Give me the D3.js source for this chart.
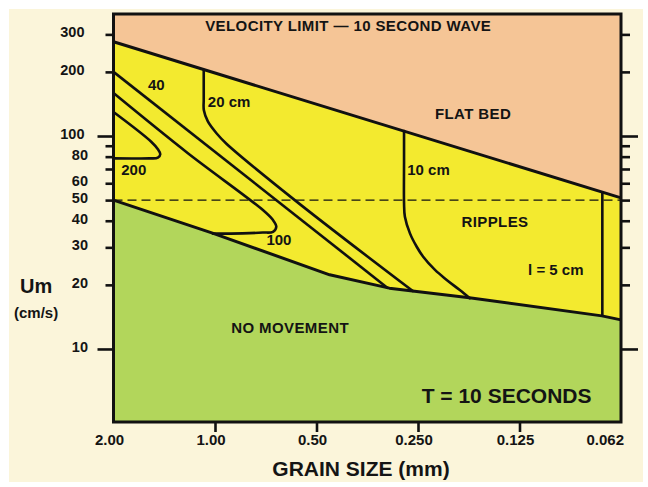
<!DOCTYPE html>
<html>
<head>
<meta charset="utf-8">
<script src="https://cdn.jsdelivr.net/npm/d3@7"></script>
<style>
  html, body { margin: 0; padding: 0; background: #ffffff; }
  svg { display: block; }
  text { font-family: "Liberation Sans", Arial, Helvetica, sans-serif; font-weight: bold; fill: #141414; }
</style>
</head>
<body>
<script>
// ---------- data (grain size d in mm, orbital velocity Um in cm/s) ----------
const xTickValues = [2, 1, 0.5, 0.25, 0.125, 0.0625];
const xTickLabels = ["2.00", "1.00", "0.50", "0.250", "0.125", "0.062"];
const xTickMarks  = [1, 0.5, 0.25, 0.125];

const yTickValues = [300, 200, 100, 90, 80, 70, 60, 50, 40, 30, 20, 10];
const yMajorTicks = [100, 10];
const yLabelValues = [300, 200, 100, 80, 60, 50, 40, 30, 20, 10];

// upper limit (flat bed) — 10 second wave
const velocityLimit = [[2, 277], [0.0625, 51.2]];
// threshold of movement
const movementThreshold = [[2, 50], [1.017, 35.0], [0.457, 22.3], [0.304, 19.3], [0.176, 17.4], [0.0712, 14.3], [0.0625, 13.7]];
// ripple wavelength contours
const ripple200 = [[2, 129.6], [1.546, 94.0], [1.477, 86.6], [1.453, 82.1], [1.477, 79.1], [1.564, 78.5], [2, 78.5]];
const ripple100 = [[2, 159], [1.206, 83.2], [0.721, 44.9], [0.673, 40.3], [0.658, 37.5], [0.673, 35.5], [0.721, 35.2], [0.828, 34.9], [1.014, 34.8]];
const ripple40  = [[2, 200], [0.307, 19.3]];
const ripple20  = [[1.08, 204], [1.08, 170], [1.08, 148], [1.079, 132], [1.05, 117], [0.99, 103], [0.925, 92], [0.58, 50], [0.259, 18.7]];
const ripple10  = [[0.275, 105.6], [0.275, 75], [0.275, 48.5], [0.2734, 41.8], [0.2641, 34.9], [0.2522, 30.2], [0.2413, 27.1], [0.2226, 23.5], [0.2055, 21.1], [0.1879, 18.9], [0.1755, 17.3]];
const ripple5   = [[0.071, 54.5], [0.071, 14.3]];
const dashedLevel = 50;

// annotations: text at (d, Um)
const contourLabels = [
  {text: "40",     d: 1.580, u: 164.4},
  {text: "20 cm",  d: 1.050, u: 137.3},
  {text: "200",    d: 1.897, u: 65.6},
  {text: "100",    d: 0.704, u: 30.8},
  {text: "10 cm",  d: 0.269, u: 65.6},
  {text: "l = 5 cm", d: 0.1179, u: 22.3}
];
const regionLabels = [
  {text: "VELOCITY LIMIT \u2014 10 SECOND WAVE", d: 1.069, u: 311},
  {text: "FLAT BED",    d: 0.2226, u: 119.8},
  {text: "RIPPLES",     d: 0.1858, u: 37.4},
  {text: "NO MOVEMENT", d: 0.895,  u: 11.85}
];
const periodLabel = {text: "T = 10 SECONDS", d: 0.2438, u: 5.60};

// ---------- drawing ----------
const W = 648, H = 487;
const X0 = 113.5, X1 = 621, Y0 = 14, Y1 = 422;

const svg = d3.select("body").append("svg").attr("width", W).attr("height", H);
svg.append("rect").attr("width", W).attr("height", H).attr("fill", "#ffffff");
svg.append("rect").attr("x", 9).attr("y", 9).attr("width", 634).attr("height", 473).attr("fill", "#FBF5DA");

const x = d3.scaleLog().base(2).domain([2, 0.0625]).range([X0, X1]);
const y = d3.scaleLog().domain([4.54, 374]).range([Y1, Y0]);

const lin = d3.line().x(p => x(p[0])).y(p => y(p[1]));
const smooth = d3.line().x(p => x(p[0])).y(p => y(p[1])).curve(d3.curveCatmullRom.alpha(0.5));

const [dMax, dMin] = x.domain();
const [uMin, uMax] = y.domain();

// flat bed (peach) background
svg.append("rect").attr("x", X0).attr("y", Y0).attr("width", X1 - X0).attr("height", Y1 - Y0).attr("fill", "#F5C596");
// ripple (yellow) zone
const yellowPoly = velocityLimit.concat(movementThreshold.slice().reverse());
svg.append("path").attr("d", lin(yellowPoly) + "Z").attr("fill", "#F3EA2F");
// no movement (green)
const greenPoly = movementThreshold.concat([[dMin, uMin], [dMax, uMin]]);
svg.append("path").attr("d", lin(greenPoly) + "Z").attr("fill", "#B2D65B");

// dashed reference
svg.append("line").attr("x1", X0).attr("x2", X1).attr("y1", y(dashedLevel)).attr("y2", y(dashedLevel))
  .attr("stroke", "#111").attr("stroke-width", 1.2).attr("stroke-dasharray", "9,5");

// boundaries
svg.append("path").attr("d", lin(velocityLimit)).attr("fill", "none").attr("stroke", "#111").attr("stroke-width", 3);
svg.append("path").attr("d", lin(movementThreshold)).attr("fill", "none").attr("stroke", "#111").attr("stroke-width", 3).attr("stroke-linejoin", "round");

// contours
[ripple200, ripple100, ripple20, ripple10].forEach(c => {
  svg.append("path").attr("d", smooth(c)).attr("fill", "none").attr("stroke", "#111").attr("stroke-width", 2.6).attr("stroke-linecap", "round");
});
[ripple40, ripple5].forEach(c => {
  svg.append("path").attr("d", lin(c)).attr("fill", "none").attr("stroke", "#111").attr("stroke-width", 2.6);
});

// plot frame
svg.append("rect").attr("x", X0).attr("y", Y0).attr("width", X1 - X0).attr("height", Y1 - Y0)
  .attr("fill", "none").attr("stroke", "#111").attr("stroke-width", 3);

// axes: ticks
function styleAxis(g) {
  g.select(".domain").remove();
  g.selectAll(".tick line").attr("stroke", "#111").attr("stroke-width", 2.6);
  g.selectAll(".tick text").remove();
}
const minorY = yTickValues.filter(v => !yMajorTicks.includes(v));
svg.append("g").attr("transform", `translate(${X0},0)`).call(d3.axisLeft(y).tickValues(minorY).tickSize(8)).call(styleAxis);
svg.append("g").attr("transform", `translate(${X0},0)`).call(d3.axisLeft(y).tickValues(yMajorTicks).tickSize(16)).call(styleAxis);
svg.append("g").attr("transform", `translate(${X1},0)`).call(d3.axisRight(y).tickValues(minorY).tickSize(9)).call(styleAxis);
svg.append("g").attr("transform", `translate(${X1},0)`).call(d3.axisRight(y).tickValues(yMajorTicks).tickSize(17)).call(styleAxis);
svg.append("g").attr("transform", `translate(0,${Y1})`).call(d3.axisBottom(x).tickValues(xTickMarks).tickSize(10)).call(styleAxis);

// y tick labels
svg.append("g").selectAll("text").data(yLabelValues).join("text")
  .attr("x", v => v >= 100 ? 84.5 : 88)
  .attr("y", v => y(v) + 3)
  .attr("text-anchor", "end")
  .attr("font-size", 14.5)
  .text(v => String(v));

// x tick labels
svg.append("g").selectAll("text").data(xTickValues).join("text")
  .attr("x", (v, i) => i === xTickValues.length - 1 ? x(v) + 3 : x(v) - 4)
  .attr("y", 445)
  .attr("text-anchor", (v, i) => i === xTickValues.length - 1 ? "end" : "middle")
  .attr("font-size", 15)
  .text((v, i) => xTickLabels[i]);

// axis titles
svg.append("text").attr("x", 361).attr("y", 476).attr("text-anchor", "middle").attr("font-size", 21).text("GRAIN SIZE (mm)");
svg.append("text").attr("x", 20).attr("y", 293).attr("font-size", 20).text("Um");
svg.append("text").attr("x", 14).attr("y", 318).attr("font-size", 15).text("(cm/s)");

// annotations
svg.append("g").selectAll("text").data(contourLabels).join("text")
  .attr("x", d => x(d.d)).attr("y", d => y(d.u)).attr("font-size", 15).text(d => d.text);
svg.append("g").selectAll("text").data(regionLabels).join("text")
  .attr("x", d => x(d.d)).attr("y", d => y(d.u)).attr("font-size", 15).attr("letter-spacing", 0.4).text(d => d.text);
svg.append("text").attr("x", x(periodLabel.d)).attr("y", y(periodLabel.u)).attr("font-size", 21).text(periodLabel.text);
</script>
</body>
</html>
